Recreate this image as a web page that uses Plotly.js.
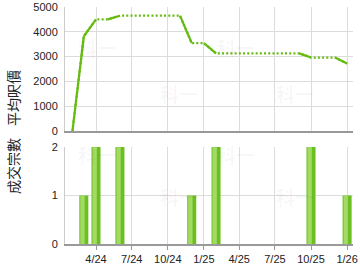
<!DOCTYPE html>
<html><head><meta charset="utf-8">
<script src="https://cdn.plot.ly/plotly-3.0.1.min.js"></script>
<style>html,body{margin:0;padding:0;background:#fff;overflow:hidden}#chart{width:360px;height:270px}</style>
</head><body><div id="chart"></div>
<script>
const months = ['2024-02-01','2024-03-01','2024-04-01','2024-05-01','2024-06-01','2024-07-01','2024-08-01','2024-09-01','2024-10-01','2024-11-01','2024-12-01','2025-01-01','2025-02-01','2025-03-01','2025-04-01','2025-05-01','2025-06-01','2025-07-01','2025-08-01','2025-09-01','2025-10-01','2025-11-01','2025-12-01','2026-01-01'];
const avgPrice = [0,3820,4500,4500,4650,4650,4650,4650,4650,4650,3540,3540,3130,3130,3130,3130,3130,3130,3130,3130,2960,2960,2960,2720];
const dealCount = [0,1,2,0,2,0,0,0,0,0,1,0,2,0,0,0,0,0,0,0,2,0,0,1];
const tickVals = ['2024-04-01','2024-07-01','2024-10-01','2025-01-01','2025-04-01','2025-07-01','2025-10-01','2026-01-01'];
const tickText = ['4/24','7/24','10/24','1/25','4/25','7/25','10/25','1/26'];
const yTitleTop = '平均呎價';
const yTitleBottom = '成交宗數';
const watermark = '科一';

const green = '#66bb11';
// solid segments: lead into months with deals
const sx = [], sy = [];
for (let i = 1; i < months.length; i++) {
  if (dealCount[i] > 0) { sx.push(months[i-1], months[i], months[i]); sy.push(avgPrice[i-1], avgPrice[i], null); }
}
const bx = [], by = [];
months.forEach((m, i) => { if (dealCount[i] > 0) { bx.push(m); by.push(dealCount[i]); } });
const DAY = 86400000;

const traces = [
  {x: months, y: avgPrice, type: 'scatter', mode: 'lines', line: {color: green, width: 2.2, dash: '2px,2.2px'}, xaxis: 'x', yaxis: 'y', hoverinfo: 'skip'},
  {x: sx, y: sy, type: 'scatter', mode: 'lines', connectgaps: false, line: {color: green, width: 2.2}, xaxis: 'x', yaxis: 'y'},
  {x: bx, y: by, type: 'bar', width: 23*DAY, marker: {color: '#6cbf22', line: {width: 0}}, xaxis: 'x2', yaxis: 'y2'},
  {x: bx, y: by, type: 'bar', width: 11*DAY, offset: -9*DAY, marker: {color: '#a2da64', line: {width: 0}}, xaxis: 'x2', yaxis: 'y2'}
];

const xr = ['2024-01-13', '2026-01-16'];
const wmFont = {family: 'Noto Sans CJK TC, sans-serif', size: 19, color: 'rgba(0,0,0,0.04)'};
const wmPos = [[76,32],[158,94],[236,32],[316,94],[76,154],[158,212],[236,154],[316,212]];
const annotations = wmPos.map(p => ({text: '<b>' + watermark + '</b>', xref: 'paper', yref: 'paper', x: (p[0]-65)/288, y: (244-p[1])/237, showarrow: false, font: wmFont}));
annotations.push({text: yTitleTop, textangle: -90, xref: 'paper', yref: 'paper', x: -52/288, xanchor: 'center', y: (244-68)/237, showarrow: false, font: {family: 'Noto Sans CJK TC, sans-serif', size: 14, color: '#222'}});
annotations.push({text: yTitleBottom, textangle: -90, xref: 'paper', yref: 'paper', x: -52/288, xanchor: 'center', y: (244-196)/237, showarrow: false, font: {family: 'Noto Sans CJK TC, sans-serif', size: 14, color: '#222'}});

const layout = {
  width: 360, height: 270,
  margin: {l: 65, r: 7, t: 7, b: 26},
  paper_bgcolor: '#fff', plot_bgcolor: '#fff',
  showlegend: false,
  barmode: 'overlay',
  font: {family: 'Liberation Sans, Arial, sans-serif', size: 11, color: '#222'},
  xaxis: {type: 'date', range: xr, domain: [0,1], anchor: 'y', tickvals: tickVals, ticktext: tickText, showticklabels: false, ticks: '', showgrid: true, gridcolor: '#dcdcdc', showline: true, linecolor: '#999', linewidth: 2, zeroline: false},
  yaxis: {domain: [0.477, 1], range: [0, 5000], dtick: 1000, tick0: 0, showgrid: true, gridcolor: '#dcdcdc', zeroline: false, showline: true, linecolor: '#ccc', linewidth: 1, ticks: '', ticklabelstandoff: 4, tickfont: {size: 11}},
  xaxis2: {type: 'date', range: xr, domain: [0,1], anchor: 'y2', tickvals: tickVals, ticktext: tickText, ticks: 'outside', ticklen: 4, tickcolor: '#999', showgrid: true, gridcolor: '#dcdcdc', showline: true, linecolor: '#999', linewidth: 2, zeroline: false, tickfont: {size: 11}},
  yaxis2: {domain: [0, 0.409], range: [0, 2], dtick: 1, tick0: 0, showgrid: true, gridcolor: '#dcdcdc', zeroline: false, showline: true, linecolor: '#ccc', linewidth: 1, ticks: '', ticklabelstandoff: 4, tickfont: {size: 11}},
  annotations: annotations
};
Plotly.newPlot('chart', traces, layout, {staticPlot: true, displayModeBar: false});
</script></body></html>
